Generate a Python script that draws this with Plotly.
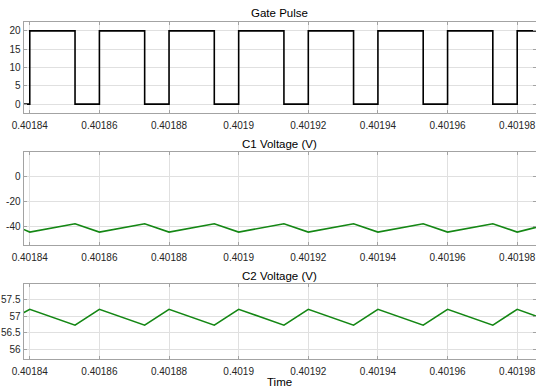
import plotly.graph_objects as go
from plotly.subplots import make_subplots

# ---- data ----
time_pts = [0.4018382, 0.40184, 0.401853, 0.40186, 0.401873, 0.40188, 0.401893,
            0.40190, 0.401913, 0.40192, 0.401933, 0.40194, 0.401953, 0.40196,
            0.401973, 0.40198, 0.4019854]
gate_vals = [0, 20, 0, 20, 0, 20, 0, 20, 0, 20, 0, 20, 0, 20, 0, 20, 20]
c1_vals = [-42.4, -44.6, -37.9, -44.6, -37.9, -44.6, -37.9, -44.6, -37.9,
           -44.6, -37.9, -44.6, -37.9, -44.6, -37.9, -44.6, -40.8]
c2_vals = [57.10, 57.20, 56.73, 57.20, 56.73, 57.20, 56.73, 57.20, 56.73,
           57.20, 56.73, 57.20, 56.73, 57.20, 56.73, 57.20, 57.00]

x_tickvals = [0.40184, 0.40186, 0.40188, 0.40190, 0.40192, 0.40194, 0.40196, 0.40198]
x_ticktext = ["0.40184", "0.40186", "0.40188", "0.4019", "0.40192", "0.40194", "0.40196", "0.40198"]
x_range = [0.4018382, 0.4019854]

titles = ["Gate Pulse", "C1 Voltage (V)", "C2 Voltage (V)"]
y1_ticks = [0, 5, 10, 15, 20]
y2_ticks = [-40, -20, 0]
y3_ticks = [56, 56.5, 57, 57.5]
y3_text = ["56", "56.5", "57", "57.5"]

W, H = 536, 392
FONT = "Liberation Sans, Arial, Helvetica, sans-serif"
GREEN = "rgb(20,135,20)"

fig = make_subplots(rows=3, cols=1)

fig.add_trace(go.Scatter(x=time_pts, y=gate_vals, mode="lines", line_shape="hv",
                         line=dict(color="black", width=1.6)), row=1, col=1)
fig.add_trace(go.Scatter(x=time_pts, y=c1_vals, mode="lines",
                         line=dict(color=GREEN, width=1.6)), row=2, col=1)
fig.add_trace(go.Scatter(x=time_pts, y=c2_vals, mode="lines",
                         line=dict(color=GREEN, width=1.6)), row=3, col=1)

# pixel geometry (top, bottom) of each panel
panels = [(21.7, 113.3), (152.3, 245.0), (284.0, 359.3)]
left_px = 23.5
yranges = [[-2.5, 22.5], [-55, 19.7], [55.72, 57.95]]
yticks = [(y1_ticks, [str(v) for v in y1_ticks]),
          (y2_ticks, [str(v) for v in y2_ticks]),
          (y3_ticks, y3_text)]

axis_common = dict(showline=True, mirror="ticks", linecolor="#a3a3a3", linewidth=1,
                   showgrid=True, gridcolor="#e0e0e0", gridwidth=1,
                   ticks="inside", ticklen=3, tickcolor="#a3a3a3",
                   zeroline=False, automargin=False,
                   tickfont=dict(family=FONT, size=10, color="#262626"))

for i, (top, bot) in enumerate(panels):
    r = i + 1
    fig.update_xaxes(range=x_range, tickvals=x_tickvals, ticktext=x_ticktext,
                     domain=[left_px / W, 1.0], ticklabelstandoff=3,
                     row=r, col=1, **axis_common)
    fig.update_yaxes(range=yranges[i], tickvals=yticks[i][0], ticktext=yticks[i][1],
                     domain=[1 - bot / H, 1 - top / H], ticklabelstandoff=0,
                     row=r, col=1, **axis_common)
    fig.add_annotation(text=titles[i], xref="paper", yref="paper",
                       x=(left_px / W + 1) / 2, y=1 - (top - 8.5) / H,
                       xanchor="center", yanchor="middle", showarrow=False,
                       font=dict(family=FONT, size=11.5, color="black"))

fig.add_annotation(text="Time", xref="paper", yref="paper",
                   x=(left_px / W + 1) / 2, y=1 - 381.5 / H,
                   xanchor="center", yanchor="middle", showarrow=False,
                   font=dict(family=FONT, size=11.5, color="black"))

fig.update_layout(width=W, height=H, margin=dict(l=0, r=0, t=0, b=0),
                  paper_bgcolor="white", plot_bgcolor="white", showlegend=False)

fig.write_html("out.html")
